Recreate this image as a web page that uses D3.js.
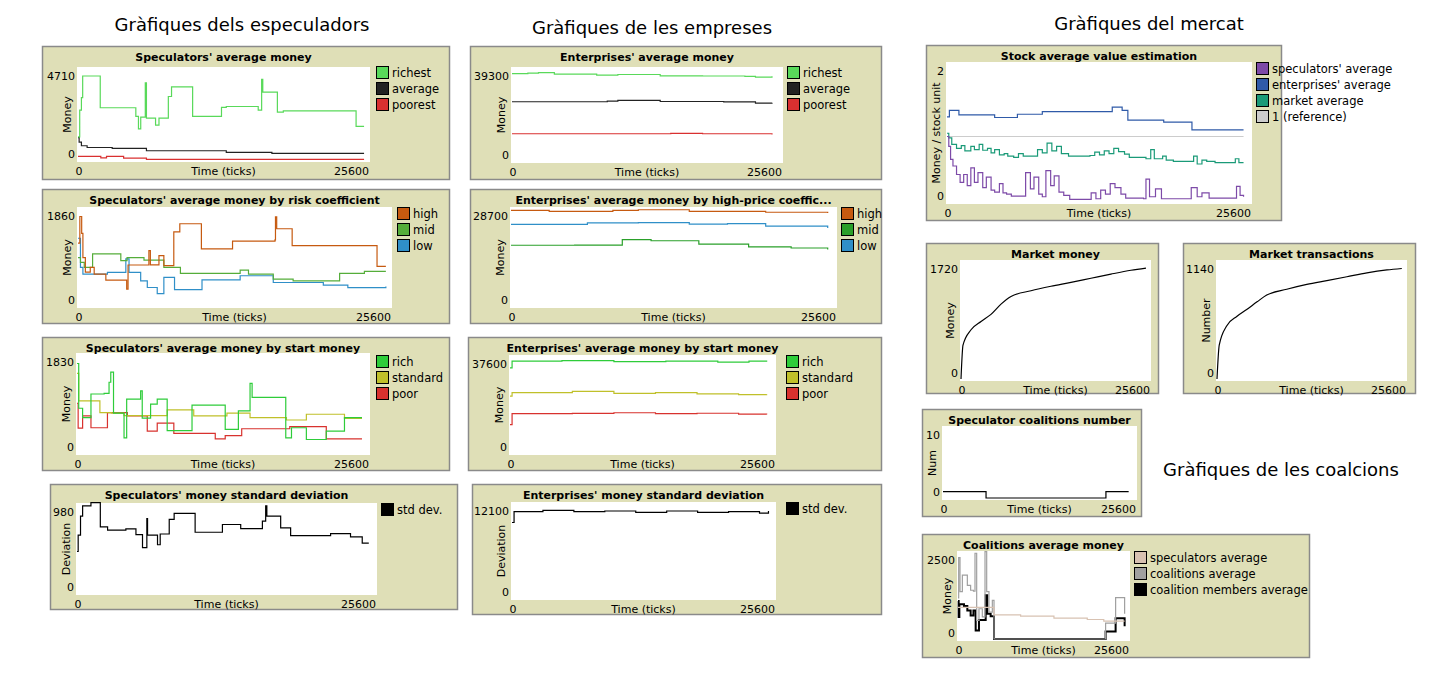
<!DOCTYPE html>
<html><head><meta charset="utf-8">
<script src="https://cdn.jsdelivr.net/npm/d3@7"></script>
<style>
body{margin:0;background:#fff;}
text{font-family:"DejaVu Sans",sans-serif;}
</style></head>
<body><svg id="main" width="1442" height="678"></svg>
<script>
// ---- data (ticks, value) ----
var specRichest = [[0,1300],[150,2800],[300,3500],[410,4710],[1950,2930],[5070,2450],[5300,1740],[5500,2400],[5900,4330],[6000,2350],[6800,1950],[7100,2350],[7920,3560],[8200,4100],[10050,2450],[12580,2950],[13000,3000],[15800,2800],[16100,4520],[16200,3810],[17480,2680],[18000,2750],[24380,1880],[25080,1880]];
var specAverage = [[0,1250],[100,1000],[300,800],[800,700],[3000,650],[6000,520],[13000,430],[17000,370],[25080,370]];
var specPoorest = [[0,200],[2000,120],[2500,200],[4000,100],[6000,30],[25080,30]];

var riskHigh = [[0,1300],[150,1850],[300,1500],[400,1000],[600,700],[1000,800],[1320,660],[2270,535],[3970,347],[4080,847],[5780,1145],[5900,850],[6600,1041],[7000,833],[7810,1530],[8300,1700],[10060,1180],[12600,1339],[16060,1367],[16100,1840],[16200,1596],[17460,1249],[24380,819],[25100,819]];
var riskMid = [[0,1000],[200,900],[510,800],[1190,1076],[3490,937],[4000,1000],[5380,950],[7000,798],[8350,673],[13220,743],[13900,660],[15920,555],[17540,520],[21330,673],[23350,715],[25100,715]];
var riskLow = [[0,1400],[200,800],[400,659],[2400,694],[3900,972],[4160,694],[5110,520],[5650,382],[6460,257],[7000,590],[7870,340],[10110,541],[13220,625],[15920,486],[17540,486],[20000,430],[22000,380],[25100,402]];

var startRich = [[0,1800],[150,900],[490,712],[1220,1186],[2370,1200],[2800,1423],[2950,1627],[3190,800],[4110,305],[4340,1084],[5560,1250],[5700,700],[6430,983],[7010,1084],[7880,450],[10050,962],[12950,474],[14100,847],[15120,1400],[15300,1118],[18240,305],[18740,508],[20040,271],[21780,440],[23370,712],[24900,712]];
var startStandard = [[0,1600],[150,1050],[2000,813],[3000,800],[4110,750],[7880,868],[10200,745],[13100,800],[15120,712],[18300,664],[20040,779],[23370,698],[24900,698]];
var startPoor = [[0,1000],[100,500],[490,745],[1220,508],[2660,813],[4400,745],[6140,440],[7010,600],[8460,393],[12080,285],[12950,350],[14390,488],[18590,529],[21780,285],[24900,285]];

var specStd = [[0,502],[100,700],[300,931],[480,1054],[1190,1094],[1990,800],[2610,760],[4170,776],[5030,706],[5590,550],[5960,900],[6020,700],[6870,584],[7100,714],[7870,890],[8290,964],[10080,735],[12410,829],[13970,780],[15820,870],[16100,1054],[16200,931],[17380,788],[18230,694],[21640,719],[23340,680],[24340,604],[24900,604]];

var entRichest = [[0,40400],[1500,40600],[2500,40900],[4000,40200],[8000,39700],[10000,40000],[14000,39400],[18000,39300],[22000,39100],[23000,38800],[24560,39200]];
var entAverage = [[0,27400],[9000,27700],[10000,28000],[14000,27500],[20000,27300],[23000,26800],[24560,26900]];
var entPoorest = [[0,12600],[15000,12800],[18000,12600],[24560,12300]];

var hpHigh = [[0,30500],[3000,30200],[8000,30500],[10000,30700],[14000,30200],[20000,29900],[24870,29650]];
var hpMid = [[0,19380],[5000,19400],[8740,21180],[11000,20800],[14750,19700],[18660,18850],[22000,18500],[24870,18000]];
var hpLow = [[0,26000],[6000,26500],[10000,26600],[14000,26100],[17000,26300],[20000,25500],[24870,24890]];

var esRich = [[0,36000],[200,38800],[5000,39000],[10000,38600],[15000,38800],[20000,38400],[23000,38800],[24700,38500]];
var esStandard = [[0,24000],[200,25500],[6000,26000],[10000,25200],[14000,25500],[18000,25000],[22000,24700],[24700,24800]];
var esPoor = [[0,12000],[200,16600],[6000,16700],[10000,17000],[14000,16600],[18000,16800],[22000,16400],[24700,16300]];

var entStd = [[0,10500],[200,12000],[3000,12200],[6000,12000],[9000,12100],[12000,11900],[15000,12100],[18000,11900],[21000,12000],[24000,11800],[24870,12100]];

var stockSpec = [[0,1.0],[150,0.85],[300,0.65],[500,0.55],[800,0.42],[1100,0.30],[1400,0.42],[1700,0.25],[2000,0.52],[2300,0.30],[2600,0.45],[3000,0.22],[3300,0.38],[3700,0.18],[4000,0.15],[4400,0.28],[4700,0.14],[5000,0.12],[5400,0.09],[6200,0.09],[6600,0.45],[7000,0.20],[7300,0.38],[7700,0.12],[8000,0.08],[8300,0.48],[8700,0.25],[9000,0.40],[9400,0.15],[9800,0.10],[10300,0.04],[11800,0.04],[12100,0.14],[12500,0.05],[12900,0.18],[13300,0.12],[13700,0.28],[14100,0.22],[14600,0.12],[15000,0.06],[16500,0.05],[16700,0.35],[17000,0.08],[17500,0.20],[18000,0.05],[20400,0.05],[20500,0.22],[21000,0.08],[21400,0.14],[22000,0.06],[24000,0.06],[24300,0.24],[24600,0.10],[24890,0.08]];
var stockEnt = [[0,1.30],[200,1.40],[1000,1.33],[4000,1.29],[5910,1.34],[8000,1.38],[13450,1.38],[13870,1.45],[14700,1.40],[15180,1.25],[18190,1.22],[20560,1.10],[24890,1.10]];
var stockMarket = [[0,1.05],[150,0.98],[400,0.88],[800,0.82],[1200,0.86],[1500,0.78],[2000,0.85],[2300,0.80],[2700,0.88],[3000,0.79],[3400,0.82],[3700,0.75],[4000,0.80],[4400,0.72],[4800,0.74],[5100,0.70],[5600,0.68],[6000,0.74],[6400,0.70],[7200,0.70],[7600,0.80],[8000,0.75],[8400,0.90],[8800,0.78],[9200,0.85],[9600,0.74],[10200,0.70],[12000,0.71],[12400,0.76],[12800,0.72],[13200,0.78],[13600,0.74],[14000,0.82],[14400,0.77],[14900,0.73],[15300,0.68],[16700,0.66],[17100,0.80],[17400,0.66],[18100,0.70],[18400,0.64],[19000,0.62],[20600,0.62],[20700,0.70],[21000,0.58],[21400,0.64],[21800,0.62],[22500,0.60],[24000,0.60],[24200,0.66],[24500,0.60],[24890,0.60]];
var stockRef = [[0,1],[24890,1]];

var marketMoney = [[0,0],[270,530],[1350,770],[2700,900],[4040,1010],[5390,1170],[6740,1290],[9430,1380],[12120,1450],[14820,1510],[17510,1575],[20200,1640],[22900,1700],[24920,1735]];
var marketTrans = [[0,0],[300,350],[1300,550],[2700,650],[4000,720],[5400,800],[6700,870],[9400,930],[12100,980],[14800,1020],[17500,1060],[20200,1100],[22900,1130],[24900,1145]];

var coalNumber = [[0,1],[5680,0],[21500,1],[24500,1]];

var coalSpec = [[0,1000],[5360,766],[9320,723],[14280,660],[19240,617],[21700,564],[24800,564]];
var coalAvg = [[0,1300],[100,2574],[300,1500],[650,2021],[1390,1700],[1880,1543],[2300,1511],[2530,2713],[2780,585],[3120,957],[3620,700],[4020,2766],[4270,1500],[4610,851],[5110,1223],[5360,0],[21970,500],[23460,1308],[24800,800]];
var coalMembers = [[0,1200],[100,700],[200,1100],[890,1043],[1390,900],[1880,745],[2300,900],[2630,266],[3120,600],[4120,1383],[4360,800],[4860,723],[5360,0],[21970,234],[23460,660],[24800,400]];

var xMaxTick = 25600;

// ---- panels ----
var panels = [
 {box:[42,46,407,133], plot:[77,67,370,162], title:"Speculators' average money", ylab:"Money", ymax:4710, lx:376, ly:66,
  series:[["richest","#59d95a",specRichest],["average","#222222",specAverage],["poorest","#d93030",specPoorest]]},
 {box:[42,189,407,134], plot:[77,207,392,308], title:"Speculators' average money by risk coefficient", ylab:"Money", ymax:1860, lx:397, ly:207,
  series:[["high","#c65a10",riskHigh],["mid","#55ad3a",riskMid],["low","#2f8fc8",riskLow]]},
 {box:[42,337,407,133], plot:[76,353,370,455], title:"Speculators' average money by start money", ylab:"Money", ymax:1830, lx:376, ly:355,
  series:[["rich","#2ecc3a",startRich],["standard","#c0c02a",startStandard],["poor","#d8322e",startPoor]]},
 {box:[50,484,407,125], plot:[76,503,377,595], title:"Speculators' money standard deviation", ylab:"Deviation", ymax:980, lx:381, ly:503,
  series:[["std dev.","#000000",specStd]]},
 {box:[470,46,411,133], plot:[511,67,783,163], title:"Enterprises' average money", ylab:"Money", ymax:39300, lx:787, ly:66,
  series:[["richest","#59d95a",entRichest],["average","#222222",entAverage],["poorest","#d93030",entPoorest]]},
 {box:[470,189,411,134], plot:[510,207,837,308], title:"Enterprises' average money by high-price coeffic...", ylab:"Money", ymax:28700, lx:841, ly:207,
  series:[["high","#c65a10",hpHigh],["mid","#2aa02a",hpMid],["low","#2f8fc8",hpLow]]},
 {box:[468,337,413,133], plot:[509,355,776,455], title:"Enterprises' average money by start money", ylab:"Money", ymax:37600, lx:786, ly:355,
  series:[["rich","#2ecc3a",esRich],["standard","#c0c02a",esStandard],["poor","#d8322e",esPoor]]},
 {box:[472,484,409,130], plot:[511,502,776,600], title:"Enterprises' money standard deviation", ylab:"Deviation", ymax:12100, lx:786, ly:502,
  series:[["std dev.","#000000",entStd]]},
 {box:[926,45,355,175], plot:[946,62,1252,204], title:"Stock average value estimation", ylab:"Money / stock unit", ymax:2, lx:1256, ly:62,
  series:[["speculators' average","#7d4aa8",stockSpec],["enterprises' average","#2f5aa8",stockEnt],["market average","#1a9a78",stockMarket],["1 (reference)","#cccccc",stockRef]]},
 {box:[926,243,232,150], plot:[960,260,1151,381], title:"Market money", ylab:"Money", ymax:1720, lx:null, smooth:true,
  series:[["money","#000000",marketMoney]]},
 {box:[1183,243,232,150], plot:[1216,260,1407,381], title:"Market transactions", ylab:"Number", ymax:1140, lx:null, smooth:true,
  series:[["transactions","#000000",marketTrans]]},
 {box:[922,409,219,107], plot:[942,426,1137,500], title:"Speculator coalitions number", ylab:"Num", ymax:10, lx:null,
  series:[["number","#000000",coalNumber]]},
 {box:[922,534,387,123], plot:[957,551,1130,641], title:"Coalitions average money", ylab:"Money", ymax:2500, lx:1134, ly:551,
  series:[["speculators average","#d8c2b2",coalSpec],["coalitions average","#a0a0a0",coalAvg],["coalition members average","#000000",coalMembers,2]]}
];

var headings = [
 ["Gràfiques dels especuladors",242,31],
 ["Gràfiques de les empreses",652,34],
 ["Gràfiques del mercat",1149,30],
 ["Gràfiques de les coalcions",1281,476]
];

var svg = d3.select("#main");

headings.forEach(function(h){
  svg.append("text").attr("x",h[1]).attr("y",h[2]).attr("text-anchor","middle")
     .attr("font-size",18).attr("fill","#000").text(h[0]);
});

panels.forEach(function(p){
  var g = svg.append("g");
  var b = p.box;
  g.append("rect").attr("x",b[0]+0.5).attr("y",b[1]+0.5).attr("width",b[2]).attr("height",b[3])
   .attr("fill","#dfdfb7").attr("stroke","#8a8a8a").attr("stroke-width",1.5);
  var x0=p.plot[0], y0=p.plot[1], x1=p.plot[2], y1=p.plot[3];
  g.append("rect").attr("x",x0).attr("y",y0).attr("width",x1-x0).attr("height",y1-y0).attr("fill","#fff");

  var x = d3.scaleLinear().domain([0,xMaxTick]).range([x0+1,x1]);
  var y = d3.scaleLinear().domain([0,p.ymax]).range([y1-2,y0+9]);

  g.append("text").attr("x",(x0+x1)/2).attr("y",b[1]+15).attr("text-anchor","middle")
   .attr("font-size",11).attr("font-weight","bold").text(p.title);
  g.append("text").attr("x",x0-2).attr("y",y(p.ymax)+4).attr("text-anchor","end").attr("font-size",11).text(p.ymax);
  g.append("text").attr("x",x0-2).attr("y",y1-4).attr("text-anchor","end").attr("font-size",11).text(0);
  g.append("text").attr("x",x0+2).attr("y",y1+13).attr("text-anchor","middle").attr("font-size",11).text(0);
  g.append("text").attr("x",x1-1).attr("y",y1+13).attr("text-anchor","end").attr("font-size",11).text(xMaxTick);
  g.append("text").attr("x",(x0+x1)/2).attr("y",y1+13).attr("text-anchor","middle").attr("font-size",11).text("Time (ticks)");
  g.append("text").attr("transform","translate("+(x0-6)+","+((y0+y1)/2)+") rotate(-90)")
   .attr("text-anchor","middle").attr("font-size",11).text(p.ylab);

  var line = d3.line().x(function(d){return x(d[0]);}).y(function(d){return y(d[1]);})
    .curve(p.smooth ? d3.curveMonotoneX : d3.curveStepAfter);
  p.series.slice().reverse().forEach(function(s){
    g.append("path").datum(s[2]).attr("d",line).attr("fill","none").attr("stroke",s[1]).attr("stroke-width",s[3]||1.2);
  });

  if (p.lx !== null) {
    p.series.forEach(function(s,i){
      var yy = p.ly + i*16;
      g.append("rect").attr("x",p.lx+0.5).attr("y",yy+0.5).attr("width",12).attr("height",12)
       .attr("fill",s[1]).attr("stroke","#000");
      g.append("text").attr("x",p.lx+16).attr("y",yy+11).attr("font-size",11.5).text(s[0]);
    });
  }
});
</script>
</body></html>
